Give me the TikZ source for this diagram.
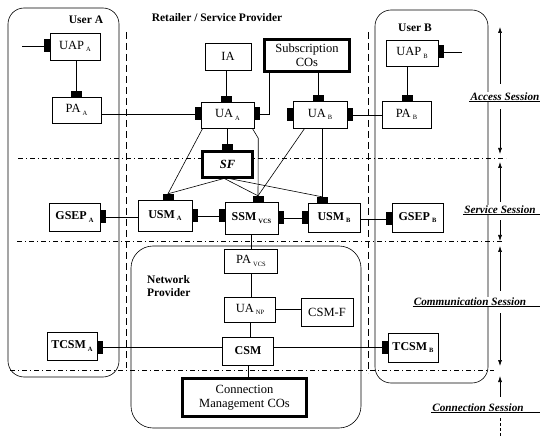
\documentclass[tikz,border=0pt]{standalone}
\usepackage{fontspec}
\setmainfont{Liberation Serif}
\usetikzlibrary{arrows.meta}
\newcommand\sbs[1]{\,\raisebox{-0.45ex}{\fontsize{6.5}{6.5}\selectfont #1}}
\begin{document}
\begin{tikzpicture}[x=1pt,y=-1pt,
  box/.style={draw, fill=white, line width=0.6pt, inner sep=1pt, font=\fontsize{12.5}{14}\selectfont, align=center},
  bbox/.style={box, font=\bfseries\fontsize{12}{14}\selectfont},
  thickbox/.style={box, line width=2.2pt},
  portv/.style={fill=black, inner sep=0pt, minimum width=6pt, minimum height=13pt},
  porth/.style={fill=black, inner sep=0pt, minimum width=11pt, minimum height=6pt},
  conn/.style={line width=0.6pt},
  region/.style={line width=0.6pt, rounded corners=16pt},
  dashdot/.style={line width=0.5pt, dash pattern=on 5pt off 3pt on 1pt off 3pt},
  vdash/.style={line width=0.5pt, dash pattern=on 7pt off 4pt},
  title/.style={font=\bfseries\fontsize{11.5}{13.5}\selectfont, inner sep=1pt},
  sess/.style={font=\bfseries\itshape\fontsize{11.2}{13}\selectfont, fill=white, inner sep=1pt},
  sarr/.style={line width=0.6pt, -{Latex[length=6pt,width=4pt]}}
]
\useasboundingbox (0,0) rectangle (542,436);

% regions
\draw[region] (8,8) rectangle (119,377);
\draw[region] (375,10) rectangle (488,383);
\draw[region, rounded corners=22pt] (131,246) rectangle (361,428);

% session separators
\draw[dashdot] (18,158) -- (506,158);
\draw[dashdot] (17,241) -- (503,241);
\draw[dashdot] (10,370) -- (494,370);
\draw[vdash] (126,32) -- (126,368);
\draw[vdash] (368,32) -- (368,373);

% titles
\node[title] (tUA) at (86,20) {User A};
\node[title] (tUB) at (415,28) {User B};
\node[title] (tRSP) at (217,18) {Retailer / Service Provider};
\node[title, align=left, anchor=north west] (tNP) at (146,274) {Network\\Provider};

% boxes
\node[box, minimum width=50pt, minimum height=27pt] (uapA) at (75,46.5) {UAP\sbs{A}};
\node[box, minimum width=49pt, minimum height=26pt] (paA) at (76.5,110) {PA\sbs{A}};
\node[box, minimum width=46pt, minimum height=27pt] (ia) at (228,56.5) {IA};
\node[thickbox, minimum width=85pt, minimum height=32pt] (sub) at (307,55.5) {Subscription\\COs};
\node[box, minimum width=53pt, minimum height=26pt] (uaA) at (227.5,115) {UA\sbs{A}};
\node[box, minimum width=54pt, minimum height=27pt] (uaB) at (320,114.5) {UA\sbs{B}};
\node[box, minimum width=52pt, minimum height=26pt] (uapB) at (412,53) {UAP\sbs{B}};
\node[box, minimum width=49pt, minimum height=27pt] (paB) at (406.5,114.5) {PA\sbs{B}};
\node[thickbox, minimum width=50pt, minimum height=26pt, font=\bfseries\itshape\fontsize{12.5}{14}\selectfont] (sf) at (227.5,164.5) {SF};
\node[bbox, minimum width=51pt, minimum height=28pt] (gsepA) at (74.5,217) {GSEP\sbs{A}};
\node[bbox, minimum width=54pt, minimum height=31pt] (usmA) at (165,215.5) {USM\sbs{A}};
\node[bbox, minimum width=53pt, minimum height=32pt] (ssm) at (251.5,218) {SSM\sbs{VCS}};
\node[bbox, minimum width=52pt, minimum height=29pt] (usmB) at (334,217.5) {USM\sbs{B}};
\node[bbox, minimum width=51pt, minimum height=29pt] (gsepB) at (417.5,217.5) {GSEP\sbs{B}};
\node[box, minimum width=53pt, minimum height=24pt] (pavcs) at (251,261) {PA\sbs{VCS}};
\node[box, minimum width=51pt, minimum height=25pt] (uanp) at (250,309.5) {UA\sbs{NP}};
\node[box, minimum width=52pt, minimum height=28pt] (csmf) at (327,312) {CSM-F};
\node[bbox, minimum width=51pt, minimum height=28pt] (csm) at (248,351) {CSM};
\node[thickbox, minimum width=124pt, minimum height=38pt] (cm) at (244.5,397.5) {Connection\\Management COs};
\node[bbox, minimum width=50pt, minimum height=28pt] (tcsmA) at (72,346) {TCSM\sbs{A}};
\node[bbox, minimum width=50pt, minimum height=29pt] (tcsmB) at (413,347.5) {TCSM\sbs{B}};

% ports
\node[portv] (uapA-l) at (47,46) {};
\node[porth] (paA-t) at (76,94) {};
\node[portv] (uaA-l) at (198,114) {};
\node[porth] (uaA-t) at (226,99) {};
\node[portv] (uaA-r) at (257,114) {};
\node[portv] (uaB-l) at (290,115) {};
\node[porth] (uaB-t) at (318,98) {};
\node[portv] (uaB-r) at (350,115) {};
\node[portv] (uapB-r) at (441,52) {};
\node[porth] (paB-t) at (407,98) {};
\node[porth] (sf-t) at (227.5,147.5) {};
\node[porth] (usmA-t) at (168,197) {};
\node[portv] (usmA-r) at (195,216) {};
\node[portv] (gsepA-r) at (103,217) {};
\node[portv] (ssm-l) at (222,216) {};
\node[porth] (ssm-t) at (258,199) {};
\node[portv] (ssm-r) at (281,218) {};
\node[portv] (usmB-l) at (305,218) {};
\node[porth] (usmB-t) at (322,200) {};
\node[portv] (gsepB-l) at (389,219) {};
\node[portv] (tcsmA-r) at (100,347) {};
\node[portv] (tcsmB-l) at (385,347) {};

\coordinate (inA) at (22,46);
\coordinate (inB) at (462,52);

% connectors
\begin{scope}[conn]
\draw (inA) -- (uapA-l.west);
\draw (uapB-r.east) -- (inB);
\draw (paA-t.north |- uapA.south) -- (paA-t.north);
\draw (paB-t.north |- uapB.south) -- (paB-t.north);
\draw (uaA-l.west) -- (uaA-l.west -| paA.east);
\draw (uaA-t.north |- ia.south) -- (uaA-t.north);
\draw (uaA-r.east) -| ([xshift=6pt]sub.south west);
\draw (uaB-t.north |- sub.south) -- (uaB-t.north);
\draw (uaB-r.east) -- (uaB-r.east -| paB.west);
\draw (sf-t.north |- uaA.south) -- (sf-t.north);
\draw ([xshift=2pt]uaA.south west) -- (usmA-t.north);
\draw ([xshift=-2pt]uaA.south east) -- ++(6,10) -- (ssm-t.north);
\draw ([xshift=12pt]uaB.south west) -- (ssm-t.north);
\draw (usmB-t.north |- uaB.south) -- (usmB-t.north);
\draw ([xshift=-4pt]sf.south) -- (usmA-t.north);
\draw ([xshift=-3pt]sf.south) -- (ssm-t.north);
\draw ([xshift=2pt]sf.south) -- (usmB-t.north);
\draw (usmA-r.east) -- (ssm-l.west);
\draw (ssm-r.east) -- (usmB-l.west);
\draw (gsepA-r.east) -- (gsepA-r.east -| usmA.west);
\draw (usmB.east |- gsepB-l) -- (gsepB-l.west);
\draw (pavcs.north |- ssm.south) -- (pavcs.north);
\draw (pavcs.south) -- (pavcs.south |- uanp.north);
\draw (uanp.east) -- (uanp.east -| csmf.west);
\draw (uanp.south) -- (uanp.south |- csm.north);
\draw (csm.south) -- (csm.south |- cm.north);
\draw (tcsmA-r.east) -- (tcsmA-r.east -| csm.west);
\draw (csm.east |- tcsmB-l) -- (tcsmB-l.west);
\end{scope}

% session labels
\coordinate (rx) at (540,0);
\node[sess] (accl) at (505,97) {Access Session};
\node[sess] (serl) at (500,210) {Service Session};
\node[sess] (coml) at (470,302) {Communication Session};
\node[sess] (conl) at (478,408) {Connection Session};
\foreach \n in {accl,serl,coml,conl}
  \draw[line width=0.6pt] ([yshift=0.5pt]\n.south west) -- ([yshift=0.5pt]\n.south west -| rx);

\coordinate (a1) at (500,27);  \coordinate (a2) at (500,154);
\coordinate (s1) at (500,162); \coordinate (s2) at (500,241);
\coordinate (c1) at (500,246); \coordinate (c2) at (500,366);
\coordinate (n1) at (500,376); \coordinate (n2) at (500,436);
\draw[sarr] (accl.north -| a1) ++(0,-8) -- (a1);
\draw[sarr] ([yshift=-7pt]accl.south -| a2) -- (a2);
\draw[sarr] ([yshift=3pt]serl.north -| s1) -- (s1);
\draw[sarr] ([yshift=-5pt]serl.south -| s2) -- (s2);
\draw[sarr] ([yshift=6pt]coml.north -| c1) -- (c1);
\draw[sarr] ([yshift=-6pt]coml.south -| c2) -- (c2);
\draw[sarr] ([yshift=6pt]conl.north -| n1) -- (n1);
\draw[line width=0.6pt, dash pattern=on 3pt off 2pt] ([yshift=-5pt]conl.south -| n2) -- (n2);
\end{tikzpicture}
\end{document}
